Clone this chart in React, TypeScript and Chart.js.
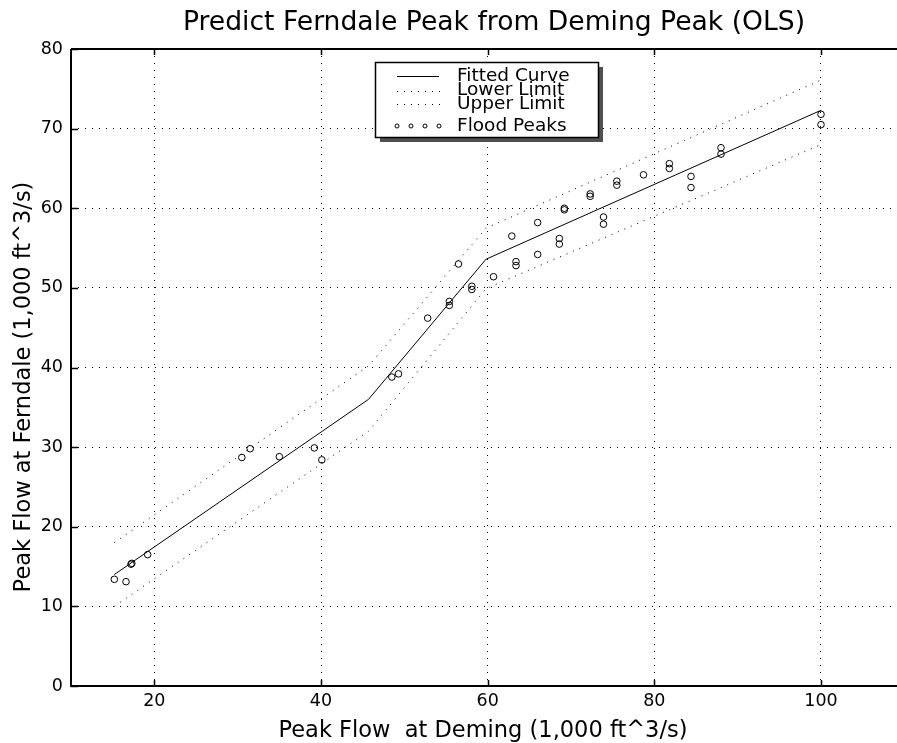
import { useEffect, useRef } from "react";
import { Chart, registerables } from "chart.js";
Chart.register(...registerables);

const titleText = "Predict Ferndale Peak from Deming Peak (OLS)";
const xTitle = "Peak Flow  at Deming (1,000 ft^3/s)";
const yTitle = "Peak Flow at Ferndale (1,000 ft^3/s)";
const legendLabels = ["Fitted Curve", "Lower Limit", "Upper Limit", "Flood Peaks"];
const xTicks = [20, 40, 60, 80, 100];
const yTicks = [0, 10, 20, 30, 40, 50, 60, 70, 80];

const fitX = [15.2, 45.7, 59.8, 100];
const fitY = [14.0, 36.0, 53.6, 72.3];
const lowerY = [10.0, 32.0, 49.9, 68.0];
const upperY = [18.0, 40.2, 57.5, 76.1];

const peakX = [15.2, 16.6, 17.2, 17.3, 19.2, 30.5, 31.5, 35.0, 39.2, 40.1, 48.5, 49.3, 52.8, 55.4, 55.4, 56.5, 58.1, 58.1, 60.7, 62.9, 63.4, 63.4, 66.0, 66.0, 68.6, 68.6, 69.2, 69.2, 72.3, 72.3, 73.9, 73.9, 75.5, 75.5, 78.7, 81.8, 81.8, 84.4, 84.4, 88.0, 88.0, 100.0, 100.0];
const peakY = [13.4, 13.1, 15.3, 15.4, 16.5, 28.7, 29.8, 28.8, 29.9, 28.4, 38.8, 39.2, 46.2, 48.3, 47.8, 53.0, 50.2, 49.8, 51.4, 56.5, 53.3, 52.8, 54.2, 58.2, 56.2, 55.5, 60.0, 59.8, 61.8, 61.5, 58.9, 58.0, 63.4, 62.9, 64.2, 65.6, 65.0, 64.0, 62.6, 67.6, 66.8, 71.8, 70.5];

const FONT = "'DejaVu Sans', 'Liberation Sans', sans-serif";

const decorPlugin = {
  id: "decor",
  afterDraw(chart: any) {
    const ctx = chart.ctx as CanvasRenderingContext2D;
    const ca = chart.chartArea;
    const xs = chart.scales.x;
    const ys = chart.scales.y;
    ctx.save();
    ctx.strokeStyle = "#000";
    ctx.lineWidth = 2;
    ctx.setLineDash([]);
    ctx.beginPath();
    ctx.moveTo(ca.left, ca.top);
    ctx.lineTo(ca.right, ca.top);
    ctx.moveTo(ca.left, ca.top);
    ctx.lineTo(ca.left, ca.bottom);
    ctx.lineTo(ca.right, ca.bottom);
    ctx.stroke();
    ctx.lineWidth = 1.5;
    ctx.beginPath();
    for (const v of xTicks) {
      const px = Math.round(xs.getPixelForValue(v)) + 0.5;
      ctx.moveTo(px, ca.bottom);
      ctx.lineTo(px, ca.bottom - 6);
      ctx.moveTo(px, ca.top);
      ctx.lineTo(px, ca.top + 6);
    }
    for (const v of yTicks) {
      const py = Math.round(ys.getPixelForValue(v)) + 0.5;
      ctx.moveTo(ca.left, py);
      ctx.lineTo(ca.left + 7, py);
    }
    ctx.stroke();

    ctx.fillStyle = "#000";
    ctx.textAlign = "center";
    ctx.textBaseline = "alphabetic";
    ctx.font = `26.6px ${FONT}`;
    ctx.fillText(titleText, 494, 30);
    ctx.font = `22.5px ${FONT}`;
    ctx.fillText(xTitle, 483, 737);
    ctx.save();
    ctx.translate(30, 387);
    ctx.rotate(-Math.PI / 2);
    ctx.fillText(yTitle, 0, 0);
    ctx.restore();

    const lx = ca.left + 304;
    const ly = ca.top + 13;
    const lw = 223;
    const lh = 75;
    ctx.fillStyle = "#505050";
    ctx.fillRect(lx + 5, ly + 5, lw, lh);
    ctx.fillStyle = "#fff";
    ctx.fillRect(lx, ly, lw, lh);
    ctx.strokeStyle = "#000";
    ctx.lineWidth = 1.5;
    ctx.strokeRect(lx + 0.5, ly + 0.5, lw, lh);
    const rows = [ly + 14, ly + 28.5, ly + 42, ly + 64];
    const s0 = lx + 22;
    const s1 = lx + 64;
    ctx.lineWidth = 1;
    ctx.beginPath();
    ctx.moveTo(s0, Math.round(rows[0]) + 0.5);
    ctx.lineTo(s1, Math.round(rows[0]) + 0.5);
    ctx.stroke();
    ctx.fillStyle = "#000";
    for (const r of [rows[1], rows[2]]) {
      for (let x = s0; x <= s1; x += 7) {
        ctx.fillRect(Math.round(x), Math.round(r), 1, 1);
      }
    }
    for (let i = 0; i < 4; i++) {
      const cx = s0 + (i * (s1 - s0)) / 3;
      ctx.beginPath();
      ctx.arc(cx, rows[3], 2, 0, Math.PI * 2);
      ctx.stroke();
    }
    ctx.font = `18.5px ${FONT}`;
    ctx.textAlign = "left";
    ctx.textBaseline = "middle";
    legendLabels.forEach((t, i) => ctx.fillText(t, lx + 82, rows[i]));
    ctx.restore();
  },
};

export default function App() {
  const ref = useRef<HTMLCanvasElement | null>(null);
  useEffect(() => {
    document.body.style.margin = "0";
    const canvas = ref.current!;
    const fit = fitX.map((x, i) => ({ x, y: fitY[i] }));
    const lower = fitX.map((x, i) => ({ x, y: lowerY[i] }));
    const upper = fitX.map((x, i) => ({ x, y: upperY[i] }));
    const peaks = peakX.map((x, i) => ({ x, y: peakY[i] }));
    const chart = new Chart(canvas, {
      type: "scatter",
      data: {
        datasets: [
          { label: "Fitted Curve", data: fit, showLine: true, borderColor: "#000", borderWidth: 1, pointRadius: 0, fill: false },
          { label: "Lower Limit", data: lower, showLine: true, borderColor: "#000", borderWidth: 1, borderDash: [1, 6], pointRadius: 0, fill: false },
          { label: "Upper Limit", data: upper, showLine: true, borderColor: "#000", borderWidth: 1, borderDash: [1, 6], pointRadius: 0, fill: false },
          { label: "Flood Peaks", data: peaks, showLine: false, borderColor: "#000", backgroundColor: "rgba(0,0,0,0)", borderWidth: 1, pointRadius: 3.3, pointStyle: "circle" },
        ],
      },
      options: {
        responsive: false,
        animation: false,
        layout: { autoPadding: false, padding: { top: 49, left: 0, right: 0, bottom: 0 } },
        plugins: { legend: { display: false }, title: { display: false }, tooltip: { enabled: false } },
        scales: {
          x: {
            type: "linear",
            min: 10,
            max: 109.12,
            afterBuildTicks: (s: any) => { s.ticks = xTicks.map((v) => ({ value: v })); },
            afterFit: (s: any) => { s.height = 57; s.paddingRight = 0; s.paddingLeft = 0; },
            grid: { color: "#000", lineWidth: 1, drawTicks: false },
            border: { display: false, dash: [1, 6] },
            ticks: { color: "#000", font: { family: FONT, size: 17.5 }, padding: 5, maxRotation: 0, autoSkip: false, callback: (v: any) => String(v) },
          },
          y: {
            type: "linear",
            min: 0,
            max: 80,
            afterBuildTicks: (s: any) => { s.ticks = yTicks.map((v) => ({ value: v })); },
            afterFit: (s: any) => { s.width = 71; s.paddingTop = 0; s.paddingBottom = 0; },
            grid: { color: "#000", lineWidth: 1, drawTicks: false },
            border: { display: false, dash: [1, 6] },
            ticks: { color: "#000", font: { family: FONT, size: 17.5 }, padding: 8, autoSkip: false, callback: (v: any) => String(v) },
          },
        },
      },
      plugins: [decorPlugin],
    });
    return () => chart.destroy();
  }, []);
  return (
    <div style={{ width: 897, height: 743, background: "#fff" }}>
      <canvas ref={ref} width={897} height={743} style={{ display: "block" }} />
    </div>
  );
}
